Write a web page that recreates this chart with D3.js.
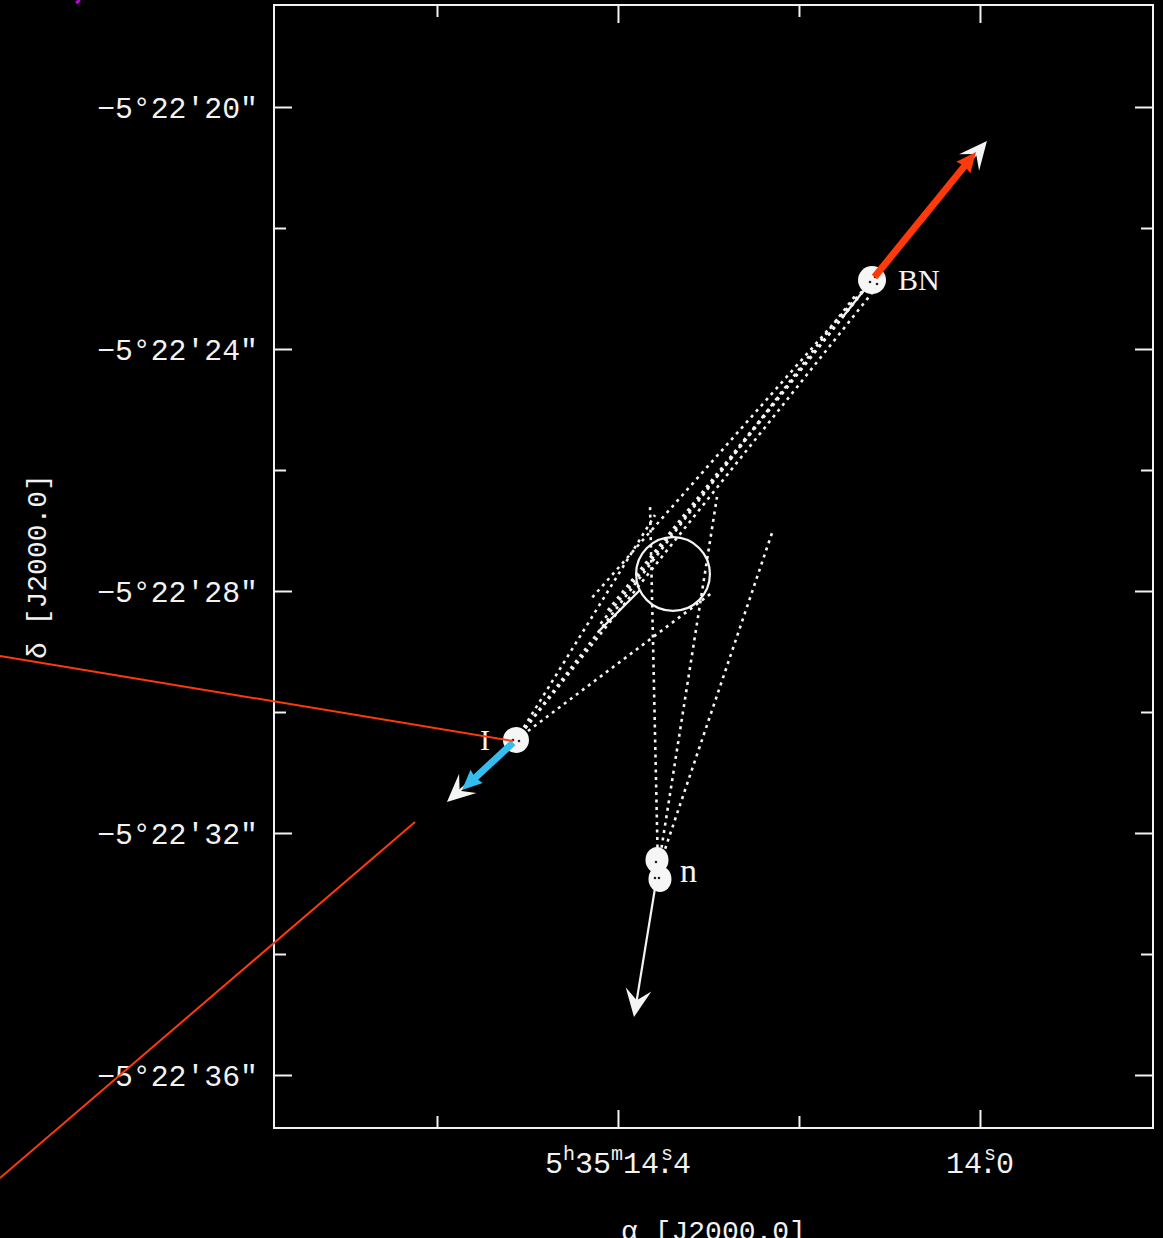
<!DOCTYPE html>
<html>
<head>
<meta charset="utf-8">
<script src="https://cdn.jsdelivr.net/npm/d3@7"></script>
<style>
  html, body { margin: 0; background: #000; }
  svg { display: block; }
</style>
</head>
<body>
<svg id="chart" width="1163" height="1238"></svg>
<script>
// Right ascension in seconds of 5h35m, declination in arcsec south of -5°22'
const raDomain = [14.7801, 13.8088];
const decDomain = [18.314, 36.876];

const raTicksMajor = [14.4, 14.0];
const raTicksMinor = [14.6, 14.2];
const raTickLabels = ["5h35m14.4", "14.0"];
const decTicksMajor = [20, 24, 28, 32, 36];
const decTicksMinor = [22, 26, 30, 34];
const decTickLabels = ["−5°22′20″", "−5°22′24″", "−5°22′28″", "−5°22′32″", "−5°22′36″"];

// Sources
const sourceNames = ["BN", "I", "n"];
const sourceRA = [14.1193, 14.5127, 14.3558];
const sourceDec = [22.860, 30.463, 32.612];
// source n is resolved into two knots
const nKnotRA = [14.3569, 14.3536];
const nKnotDec = [32.446, 32.760];

// Proper motion vectors (white), from each source to its arrow tip
const motionTipRA = [13.9923, 14.5890, 14.3823];
const motionTipDec = [20.562, 31.488, 35.041];
// Highlighted vectors for BN and I
const highlightSource = ["BN", "I"];
const highlightTipRA = [14.0044, 14.5724];
const highlightTipDec = [20.744, 31.289];
const highlightColor = ["#ff3a0a", "#35bdf0"];

// Back-projected trajectories (dotted), from a source to an end point
const trackSource = ["BN", "BN", "BN", "I", "I", "I", "I", "n", "n", "n"];
const trackEndRA = [14.4309, 14.4144, 14.4221, 14.1105, 14.1381, 14.2950, 14.3591, 14.3646, 14.2906, 14.2287];
const trackEndDec = [28.149, 28.380, 28.595, 22.909, 23.124, 28.017, 26.744, 26.579, 26.446, 26.992];

// Solid segments along the trajectories
const solidStartRA = [14.1193, 14.4221];
const solidStartDec = [22.860, 28.678];
const solidEndRA = [14.1525, 14.3757];
const solidEndDec = [23.488, 27.983];

// Region of closest approach
const originRA = 14.3392;
const originDec = 27.719;
const originRadius = 0.61; // arcsec

// Pointer lines leading out of the frame
const pointerStartRA = [15.0829, 14.6243];
const pointerStartDec = [29.074, 31.818];
const pointerEndRA = [14.5160, 15.0829];
const pointerEndDec = [30.479, 37.702];
const markStartRA = [14.9989];
const markStartDec = [18.281];
const markEndRA = [14.9945];
const markEndDec = [18.231];

const svg = d3.select("#chart");
svg.append("rect").attr("width", 1163).attr("height", 1238).attr("fill", "#000");

const x = d3.scaleLinear().domain(raDomain).range([274, 1153]);
const y = d3.scaleLinear().domain(decDomain).range([5, 1128]);
const [x0, x1] = x.range();
const [y0, y1] = y.range();

const monoFont = "'Liberation Mono', 'DejaVu Sans Mono', monospace";
const serifFont = "'Liberation Serif', 'DejaVu Serif', serif";
const ink = "#f2f2f2";

// ---------- axes ----------
function styleAxis(g) {
  g.select(".domain").remove();
  g.selectAll(".tick line").attr("stroke", ink).attr("stroke-width", 2);
  g.selectAll(".tick text").attr("fill", ink);
}

svg.append("g").attr("transform", `translate(${x0},0)`)
  .call(d3.axisLeft(y).tickValues(decTicksMajor).tickSize(-18).tickPadding(16)
    .tickFormat((d, i) => decTickLabels[i]))
  .call(styleAxis)
  .call(g => g.selectAll(".tick text")
    .attr("font-family", monoFont).attr("font-size", 30)
    .attr("textLength", 161).attr("lengthAdjust", "spacingAndGlyphs")
    .attr("dy", "0.36em"));
svg.append("g").attr("transform", `translate(${x0},0)`)
  .call(d3.axisLeft(y).tickValues(decTicksMinor).tickSize(-12).tickFormat(""))
  .call(styleAxis);

svg.append("g").attr("transform", `translate(${x1},0)`)
  .call(d3.axisRight(y).tickValues(decTicksMajor).tickSize(-18).tickFormat(""))
  .call(styleAxis);
svg.append("g").attr("transform", `translate(${x1},0)`)
  .call(d3.axisRight(y).tickValues(decTicksMinor).tickSize(-12).tickFormat(""))
  .call(styleAxis);

svg.append("g").attr("transform", `translate(0,${y0})`)
  .call(d3.axisTop(x).tickValues(raTicksMajor).tickSize(-18).tickFormat(""))
  .call(styleAxis);
svg.append("g").attr("transform", `translate(0,${y0})`)
  .call(d3.axisTop(x).tickValues(raTicksMinor).tickSize(-12).tickFormat(""))
  .call(styleAxis);

svg.append("g").attr("transform", `translate(0,${y1})`)
  .call(d3.axisBottom(x).tickValues(raTicksMajor).tickSize(-18).tickFormat(""))
  .call(styleAxis);
svg.append("g").attr("transform", `translate(0,${y1})`)
  .call(d3.axisBottom(x).tickValues(raTicksMinor).tickSize(-12).tickFormat(""))
  .call(styleAxis);

// RA tick labels with superscript unit marks; the seconds mark sits over the decimal point
raTicksMajor.forEach((v, i) => {
  const parts = raTickLabels[i].match(/(?:(\d+)h)?(?:(\d+)m)?(\d+)\.(\d+)/);
  const segs = [];
  if (parts[1]) segs.push({ t: parts[1] }, { t: "h", sup: true });
  if (parts[2]) segs.push({ t: parts[2] }, { t: "m", sup: true });
  segs.push({ t: parts[3] }, { t: ".", dx: -3 }, { t: "s", sup: true, dx: -13 }, { t: parts[4] });

  const t = svg.append("text")
    .attr("x", x(v)).attr("y", y1 + 45)
    .attr("text-anchor", "middle")
    .attr("font-family", monoFont).attr("font-size", 30)
    .attr("fill", ink);
  let shift = 0;
  segs.forEach(s => {
    const target = s.sup ? -13 : 0;
    const ts = t.append("tspan").text(s.t);
    if (target !== shift) ts.attr("dy", target - shift);
    if (s.dx) ts.attr("dx", s.dx);
    if (s.sup) ts.attr("font-size", 20);
    shift = target;
  });
});

// Axis titles
svg.append("text")
  .attr("x", (x0 + x1) / 2).attr("y", 1240)
  .attr("text-anchor", "middle")
  .attr("font-family", monoFont).attr("font-size", 28)
  .attr("fill", ink)
  .text("α [J2000.0]");
svg.append("text")
  .attr("transform", `translate(46,${(y0 + y1) / 2}) rotate(-90)`)
  .attr("text-anchor", "middle")
  .attr("font-family", monoFont).attr("font-size", 28)
  .attr("fill", ink)
  .text("δ [J2000.0]");

// Frame
svg.append("rect")
  .attr("x", x0).attr("y", y0).attr("width", x1 - x0).attr("height", y1 - y0)
  .attr("fill", "none").attr("stroke", ink).attr("stroke-width", 2);

// ---------- plot content ----------
const srcIndex = name => sourceNames.indexOf(name);
const sx = name => x(sourceRA[srcIndex(name)]);
const sy = name => y(sourceDec[srcIndex(name)]);

// Dotted trajectories
svg.append("g").selectAll("line")
  .data(trackSource)
  .join("line")
  .attr("x1", d => sx(d)).attr("y1", d => sy(d))
  .attr("x2", (d, i) => x(trackEndRA[i])).attr("y2", (d, i) => y(trackEndDec[i]))
  .attr("stroke", "#f4f4f4").attr("stroke-width", 2.6)
  .attr("stroke-dasharray", "3,4.5");

svg.append("g").selectAll("line")
  .data(solidStartRA)
  .join("line")
  .attr("x1", (d, i) => x(solidStartRA[i])).attr("y1", (d, i) => y(solidStartDec[i]))
  .attr("x2", (d, i) => x(solidEndRA[i])).attr("y2", (d, i) => y(solidEndDec[i]))
  .attr("stroke", "#f4f4f4").attr("stroke-width", 2.2);

// Closest-approach circle
svg.append("circle")
  .attr("cx", x(originRA)).attr("cy", y(originDec))
  .attr("r", y(decDomain[0] + originRadius) - y(decDomain[0]))
  .attr("fill", "none").attr("stroke", "#f4f4f4").attr("stroke-width", 2.2);

// Arrowhead: tip at (tx,ty), pointing along angle a
function head(g, tx, ty, a, len, hw, notch, fill) {
  g.append("path")
    .attr("d", `M0,0L${-len},${-hw}L${-len + notch},0L${-len},${hw}Z`)
    .attr("transform", `translate(${tx},${ty}) rotate(${a * 180 / Math.PI})`)
    .attr("fill", fill);
}

// White proper-motion vectors
const motion = svg.append("g");
sourceNames.forEach((name, i) => {
  const ax = sx(name), ay = sy(name);
  const bx = x(motionTipRA[i]), by = y(motionTipDec[i]);
  const a = Math.atan2(by - ay, bx - ax);
  motion.append("line")
    .attr("x1", ax).attr("y1", ay)
    .attr("x2", bx - 10 * Math.cos(a)).attr("y2", by - 10 * Math.sin(a))
    .attr("stroke", "#f4f4f4").attr("stroke-width", 2.2);
  head(motion, bx, by, a, 28, 13, 11, "#f4f4f4");
});

// Source markers
const marks = svg.append("g");
[["BN", 14], ["I", 13]].forEach(([name, r]) => {
  marks.append("circle").attr("cx", sx(name)).attr("cy", sy(name)).attr("r", r).attr("fill", "#f6f6f6");
});
nKnotRA.forEach((v, i) => {
  marks.append("ellipse").attr("cx", x(v)).attr("cy", y(nKnotDec[i]))
    .attr("rx", 11.5).attr("ry", 13).attr("fill", "#f6f6f6");
});
// speckle inside the markers
[["BN", 3, -3], ["BN", -2, 2], ["BN", 5, 4], ["I", -3, 0], ["I", 3, 1], ["n", -2, -8], ["n", 1, 8], ["n", -3, 8]]
  .forEach(([name, dx, dy]) => {
    marks.append("circle").attr("cx", sx(name) + dx).attr("cy", sy(name) + dy).attr("r", 1.3).attr("fill", "#222");
  });

// Highlighted vectors
const hl = svg.append("g");
highlightSource.forEach((name, i) => {
  const ax = sx(name), ay = sy(name);
  const bx = x(highlightTipRA[i]), by = y(highlightTipDec[i]);
  const a = Math.atan2(by - ay, bx - ax);
  hl.append("line")
    .attr("x1", ax + 4 * Math.cos(a)).attr("y1", ay + 4 * Math.sin(a))
    .attr("x2", bx - 14 * Math.cos(a)).attr("y2", by - 14 * Math.sin(a))
    .attr("stroke", highlightColor[i]).attr("stroke-width", 7);
  head(hl, bx, by, a, 20, 9, 2, highlightColor[i]);
});

// Source labels
const labelOffsets = { BN: [26, 10, "start", 30], I: [-26, 10, "end", 30], n: [22, 12, "start", 34] };
sourceNames.forEach(name => {
  const [dx, dy, anchor, fs] = labelOffsets[name];
  svg.append("text")
    .attr("x", sx(name) + dx).attr("y", sy(name) + dy)
    .attr("text-anchor", anchor)
    .attr("font-family", serifFont).attr("font-size", fs)
    .attr("fill", "#f4f4f4")
    .text(name);
});

// Pointer lines
svg.append("g").selectAll("line")
  .data(pointerStartRA)
  .join("line")
  .attr("x1", (d, i) => x(pointerStartRA[i])).attr("y1", (d, i) => y(pointerStartDec[i]))
  .attr("x2", (d, i) => x(pointerEndRA[i])).attr("y2", (d, i) => y(pointerEndDec[i]))
  .attr("stroke", "#ff3a0a").attr("stroke-width", 2);
svg.append("g").selectAll("line")
  .data(markStartRA)
  .join("line")
  .attr("x1", (d, i) => x(markStartRA[i])).attr("y1", (d, i) => y(markStartDec[i]))
  .attr("x2", (d, i) => x(markEndRA[i])).attr("y2", (d, i) => y(markEndDec[i]))
  .attr("stroke", "#c000e0").attr("stroke-width", 3);
</script>
</body>
</html>
